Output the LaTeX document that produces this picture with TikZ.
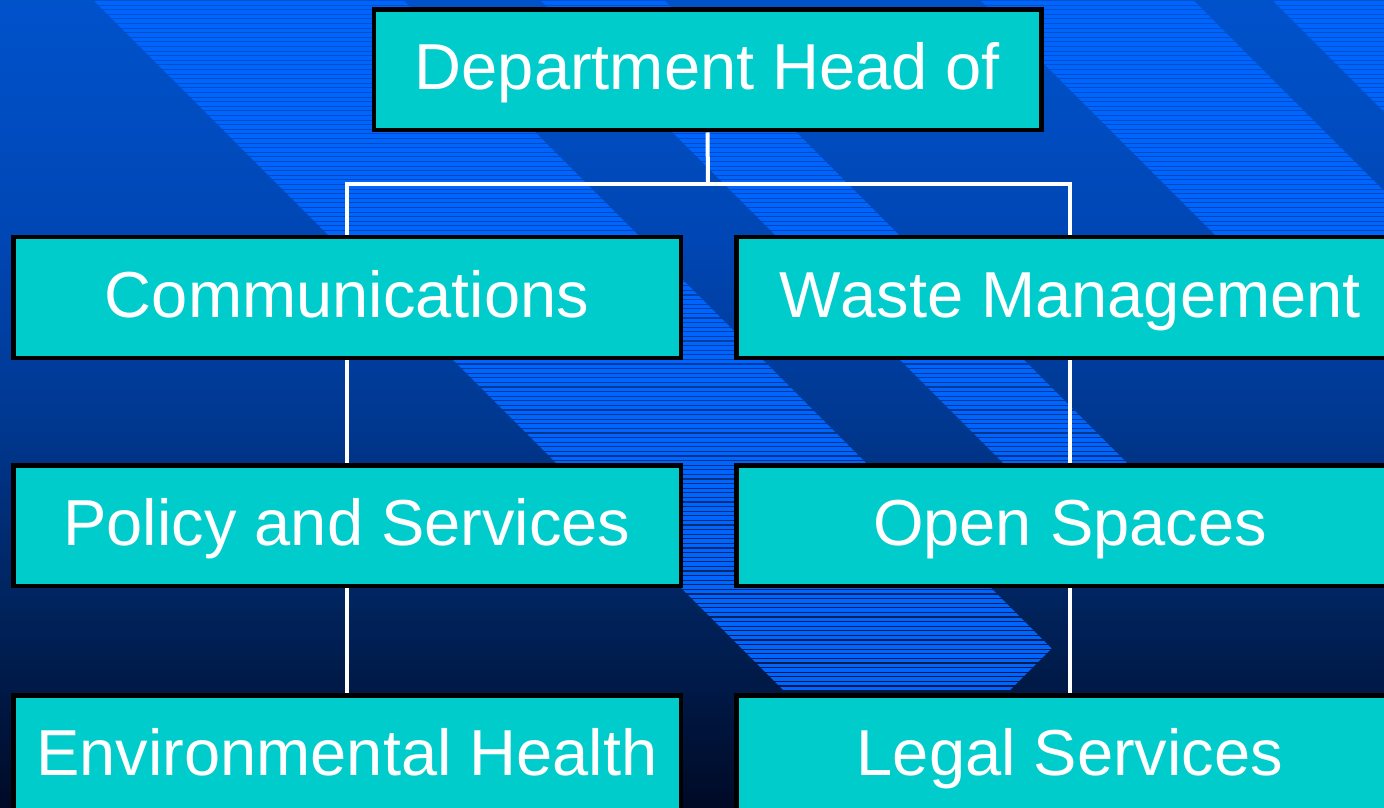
\documentclass[tikz,border=0pt]{standalone}
\usepackage{fontspec}
\setmainfont{Liberation Sans}[Kerning=Off]
\definecolor{bgA}{RGB}{0,82,204}
\definecolor{bgB}{RGB}{0,70,180}
\definecolor{bgC}{RGB}{0,56,145}
\definecolor{bgD}{RGB}{0,36,94}
\definecolor{bgE}{RGB}{0,10,38}
\definecolor{stripeblue}{RGB}{0,100,255}
\definecolor{boxcyan}{RGB}{0,204,204}
\pgfdeclarelayer{bglayer}
\pgfdeclarelayer{linelayer}
\pgfsetlayers{bglayer,linelayer,main}
\newcommand\gradseg[4]{%
  \foreach \k in {0,...,29}{%
    \pgfmathsetmacro\pmix{100-(\k+0.5)*100/30}%
    \pgfmathsetmacro\ya{#1+(#2-#1)*\k/30}%
    \pgfmathsetmacro\yb{#1+(#2-#1)*(\k+1)/30+0.8}%
    \fill[#3!\pmix!#4] (0,\ya) rectangle (1384,\yb);
  }%
}
\begin{document}
\begin{tikzpicture}[x=0.5pt,y=-0.5pt,
  orgbox/.style={draw=black, line width=2.25pt, fill=boxcyan,
    minimum width=333.75pt, minimum height=60.25pt, inner sep=0pt,
    text=white, font=\fontsize{32.5pt}{36pt}\selectfont,
    text height=26pt, text depth=6pt},
  conn/.style={draw=white, line width=2pt, line join=miter}]
\useasboundingbox (0,0) rectangle (1384,807);

\begin{pgfonlayer}{bglayer}
  \clip (0,0) rectangle (1384,807);
  \gradseg{0}{240}{bgA}{bgB}
  \gradseg{240}{420}{bgB}{bgC}
  \gradseg{420}{600}{bgC}{bgD}
  \gradseg{600}{807}{bgD}{bgE}
  \begin{scope}
    \clip (93,0) -- (403,0) -- (1051.5,648.5) -- (1010,690) -- (783,690) -- cycle
          (540,0) -- (664,0) -- (1204,540) -- (1080,540) -- cycle
          (980,0) -- (1193,0) -- (1493,300) -- (1280,300) -- cycle
          (1272,0) -- (1500,0) -- (1500,228) -- cycle;
    \foreach \i in {0,...,176}{
      \fill[stripeblue] (0,{\i*4.6+1.1}) rectangle (1500,{\i*4.6+4.6});
    }
  \end{scope}
\end{pgfonlayer}

\node[orgbox] (head)   at (707.5,70)   {Department Head of};
\node[orgbox] (comm)   at (347,297.5)  {Communications};
\node[orgbox] (waste)  at (1070,297.5) {Waste Management};
\node[orgbox] (policy) at (347,525.5)  {Policy and Services};
\node[orgbox] (open)   at (1070,525.5) {Open Spaces};
\node[orgbox] (env)    at (347,755.5)  {Environmental Health};
\node[orgbox] (legal)  at (1070,755.5) {Legal Services};

\begin{pgfonlayer}{linelayer}
  \coordinate (bus) at (708,184);
  \draw[conn] (head.south) -- (bus);
  \draw[conn] (comm.north) |- (bus) -| (waste.north);
  \draw[conn] (comm.south) -- (policy.north);
  \draw[conn] (policy.south) -- (env.north);
  \draw[conn] (waste.south) -- (open.north);
  \draw[conn] (open.south) -- (legal.north);
\end{pgfonlayer}
\end{tikzpicture}
\end{document}
